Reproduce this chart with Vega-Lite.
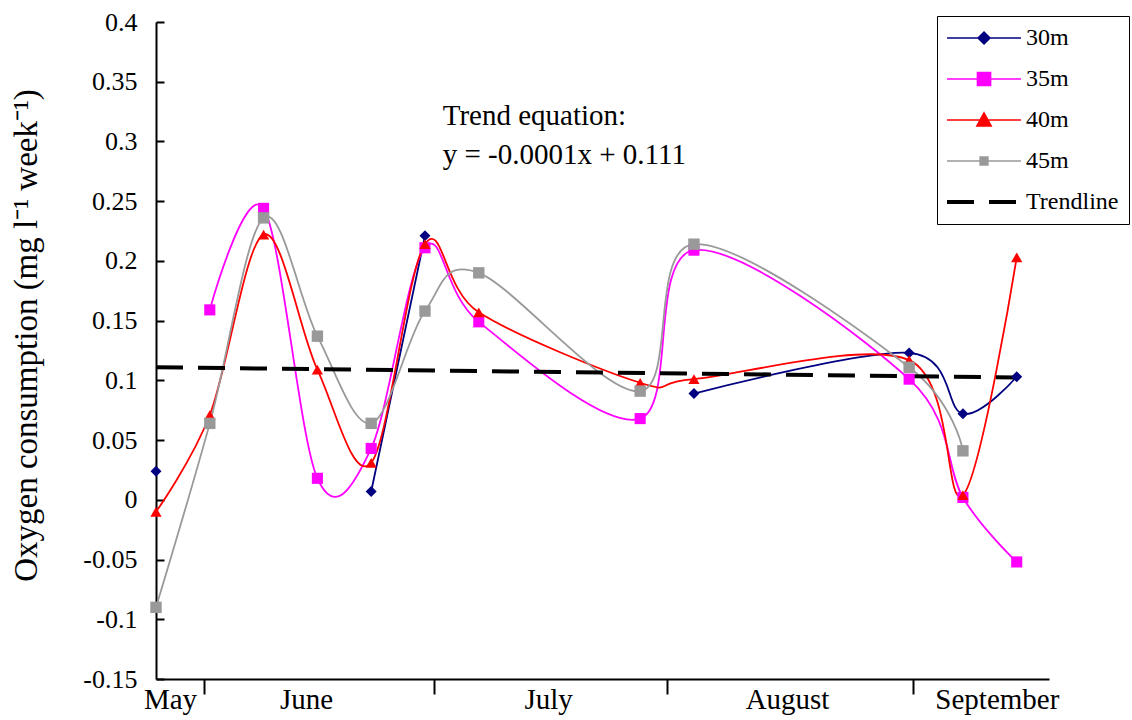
{
  "$schema": "https://vega.github.io/schema/vega-lite/v6.json",
  "width": 893,
  "height": 657,
  "autosize": "none",
  "padding": {"left": 156, "top": 22, "right": 83, "bottom": 41},
  "background": "white",
  "config": {"view": {"stroke": null}, "font": "Liberation Serif"},
  "datasets": {
    "obs": [
      {"week": 0, "series": "30m", "value": 0.024},
      {"week": 1, "series": "30m", "value": null},
      {"week": 2, "series": "30m", "value": null},
      {"week": 3, "series": "30m", "value": null},
      {"week": 4, "series": "30m", "value": 0.007},
      {"week": 5, "series": "30m", "value": 0.221},
      {"week": 6, "series": "30m", "value": null},
      {"week": 9, "series": "30m", "value": null},
      {"week": 10, "series": "30m", "value": 0.089},
      {"week": 14, "series": "30m", "value": 0.123},
      {"week": 15, "series": "30m", "value": 0.072},
      {"week": 16, "series": "30m", "value": 0.103},
      {"week": 1, "series": "35m", "value": 0.159},
      {"week": 2, "series": "35m", "value": 0.244},
      {"week": 3, "series": "35m", "value": 0.018},
      {"week": 4, "series": "35m", "value": 0.043},
      {"week": 5, "series": "35m", "value": 0.211},
      {"week": 6, "series": "35m", "value": 0.149},
      {"week": 9, "series": "35m", "value": 0.068},
      {"week": 10, "series": "35m", "value": 0.209},
      {"week": 14, "series": "35m", "value": 0.101},
      {"week": 15, "series": "35m", "value": 0.002},
      {"week": 16, "series": "35m", "value": -0.052},
      {"week": 0, "series": "40m", "value": -0.01},
      {"week": 1, "series": "40m", "value": 0.071},
      {"week": 2, "series": "40m", "value": 0.222},
      {"week": 3, "series": "40m", "value": 0.109},
      {"week": 4, "series": "40m", "value": 0.031},
      {"week": 5, "series": "40m", "value": 0.214},
      {"week": 6, "series": "40m", "value": 0.157},
      {"week": 9, "series": "40m", "value": 0.098},
      {"week": 10, "series": "40m", "value": 0.101},
      {"week": 14, "series": "40m", "value": 0.117},
      {"week": 15, "series": "40m", "value": 0.004},
      {"week": 16, "series": "40m", "value": 0.203},
      {"week": 0, "series": "45m", "value": -0.09},
      {"week": 1, "series": "45m", "value": 0.064},
      {"week": 2, "series": "45m", "value": 0.236},
      {"week": 3, "series": "45m", "value": 0.137},
      {"week": 4, "series": "45m", "value": 0.064},
      {"week": 5, "series": "45m", "value": 0.158},
      {"week": 6, "series": "45m", "value": 0.19},
      {"week": 9, "series": "45m", "value": 0.091},
      {"week": 10, "series": "45m", "value": 0.214},
      {"week": 14, "series": "45m", "value": 0.111},
      {"week": 15, "series": "45m", "value": 0.041}
    ],
    "trend": [
      {"week": 0, "value": 0.111},
      {"week": 16, "value": 0.1025}
    ],
    "note": [
      {"label": "Trend equation:"}
    ]
  },
  "layer": [
    {
      "data": {"name": "obs"},
      "mark": {"type": "line", "interpolate": "cardinal", "strokeWidth": 1.8, "invalid": "break-paths-show-domains"},
      "encoding": {
        "x": {
          "field": "week",
          "type": "quantitative",
          "scale": {"domain": [0, 16.6], "nice": false, "zero": false},
          "axis": {
            "title": null,
            "grid": false,
            "values": [0.26, 0.89, 2.79, 5.17, 7.29, 9.5, 11.73, 14.07, 15.63],
            "labelExpr": "datum.value < 0.5 ? 'May' : (datum.value > 2.5 && datum.value < 3) ? 'June' : (datum.value > 7 && datum.value < 7.5) ? 'July' : (datum.value > 11.5 && datum.value < 12) ? 'August' : datum.value > 15.5 ? 'September' : ''",
            "tickOpacity": {"condition": {"test": "indexof([0.89, 5.17, 9.5, 14.07], datum.value) >= 0", "value": 1}, "value": 0},
            "tickSize": 15,
            "tickWidth": 2,
            "tickColor": "black",
            "domainColor": "black",
            "domainWidth": 2,
            "labelPadding": -9,
            "labelFont": "Liberation Serif",
            "labelFontSize": 29,
            "labelColor": "black",
            "labelFlush": false,
            "labelOverlap": false,
            "labelBound": false
          }
        },
        "y": {
          "field": "value",
          "type": "quantitative",
          "scale": {"domain": [-0.15, 0.4], "nice": false, "zero": false},
          "axis": {
            "title": "Oxygen consumption (mg l⁻¹ week⁻¹)",
            "titleFont": "Liberation Serif",
            "titleFontSize": 33,
            "titleFontWeight": "normal",
            "titleColor": "black",
            "titleX": -113,
            "titleY": 313,
            "titleAlign": "center",
            "titleBaseline": "bottom",
            "titleAngle": -90,
            "grid": false,
            "values": [-0.15, -0.1, -0.05, 0, 0.05, 0.1, 0.15, 0.2, 0.25, 0.3, 0.35, 0.4],
            "labelExpr": "datum.value < -0.0001 ? '-' + format(-datum.value, '.2~f') : format(abs(datum.value), '.2~f')",
            "tickSize": -8,
            "tickWidth": 2,
            "tickColor": "black",
            "domainColor": "black",
            "domainWidth": 2,
            "labelPadding": 27,
            "labelFont": "Liberation Serif",
            "labelFontSize": 26,
            "labelColor": "black"
          }
        },
        "color": {
          "field": "series",
          "type": "nominal",
          "scale": {"domain": ["30m", "35m", "40m", "45m", "Trendline"], "range": ["#000080", "#FF00FF", "#FF0000", "#999999", "#000000"]},
          "legend": {
            "title": null,
            "orient": "none",
            "legendX": 781,
            "legendY": -6,
            "padding": 10,
            "strokeColor": "black",
            "fillColor": "white",
            "labelFont": "Liberation Serif",
            "labelFontSize": 24,
            "labelColor": "black",
            "labelOffset": 55,
            "rowPadding": 17,
            "symbolSize": 144,
            "encode": {
              "symbols": {
                "update": {
                  "shape": {"signal": "datum.value === '30m' ? 'M-2,0H10.33M4.17,-1L5.17,0L4.17,1L3.17,0Z' : datum.value === '35m' ? 'M-2,0H10.33M3.07,-1.1H5.27V1.1H3.07Z' : datum.value === '40m' ? 'M-2,0H10.33M4.17,-1.2L5.37,1L2.97,1Z' : datum.value === '45m' ? 'M-2,0H10.33M3.52,-0.65H4.82V0.65H3.52Z' : 'M-2,0H10.33'"},
                  "fill": {"signal": "datum.value === 'Trendline' ? 'transparent' : scale('color', datum.value)"},
                  "stroke": {"signal": "scale('color', datum.value)"},
                  "strokeWidth": {"signal": "datum.value === 'Trendline' ? 4 : 1.5"},
                  "strokeDash": {"signal": "datum.value === 'Trendline' ? [27, 15] : []"},
                  "size": {"value": 144},
                  "opacity": {"value": 1}
                }
              }
            }
          }
        }
      }
    },
    {
      "data": {"name": "trend"},
      "mark": {"type": "line", "color": "black", "strokeWidth": 4, "strokeDash": [27, 15]},
      "encoding": {
        "x": {"field": "week", "type": "quantitative"},
        "y": {"field": "value", "type": "quantitative"}
      }
    },
    {
      "data": {"name": "obs"},
      "mark": {"type": "point", "filled": true, "opacity": 1},
      "encoding": {
        "x": {"field": "week", "type": "quantitative"},
        "y": {"field": "value", "type": "quantitative"},
        "color": {
          "field": "series",
          "type": "nominal",
          "scale": {"domain": ["30m", "35m", "40m", "45m", "Trendline"], "range": ["#000080", "#FF00FF", "#FF0000", "#999999", "#000000"]},
          "legend": null
        },
        "shape": {
          "field": "series",
          "type": "nominal",
          "scale": {"domain": ["30m", "35m", "40m", "45m"], "range": ["diamond", "square", "triangle-up", "square"]},
          "legend": null
        },
        "size": {
          "field": "series",
          "type": "nominal",
          "scale": {"domain": ["30m", "35m", "40m", "45m"], "range": [120, 130, 160, 36]},
          "legend": null
        }
      }
    },
    {
      "data": {"name": "note"},
      "mark": {"type": "text", "align": "left", "baseline": "alphabetic", "font": "Liberation Serif", "fontSize": 29, "lineHeight": 39, "color": "black"},
      "encoding": {
        "x": {"datum": 5.33, "type": "quantitative"},
        "y": {"datum": 0.3137, "type": "quantitative"},
        "text": {"value": ["Trend equation:", "y = -0.0001x + 0.111"]}
      }
    }
  ]
}
